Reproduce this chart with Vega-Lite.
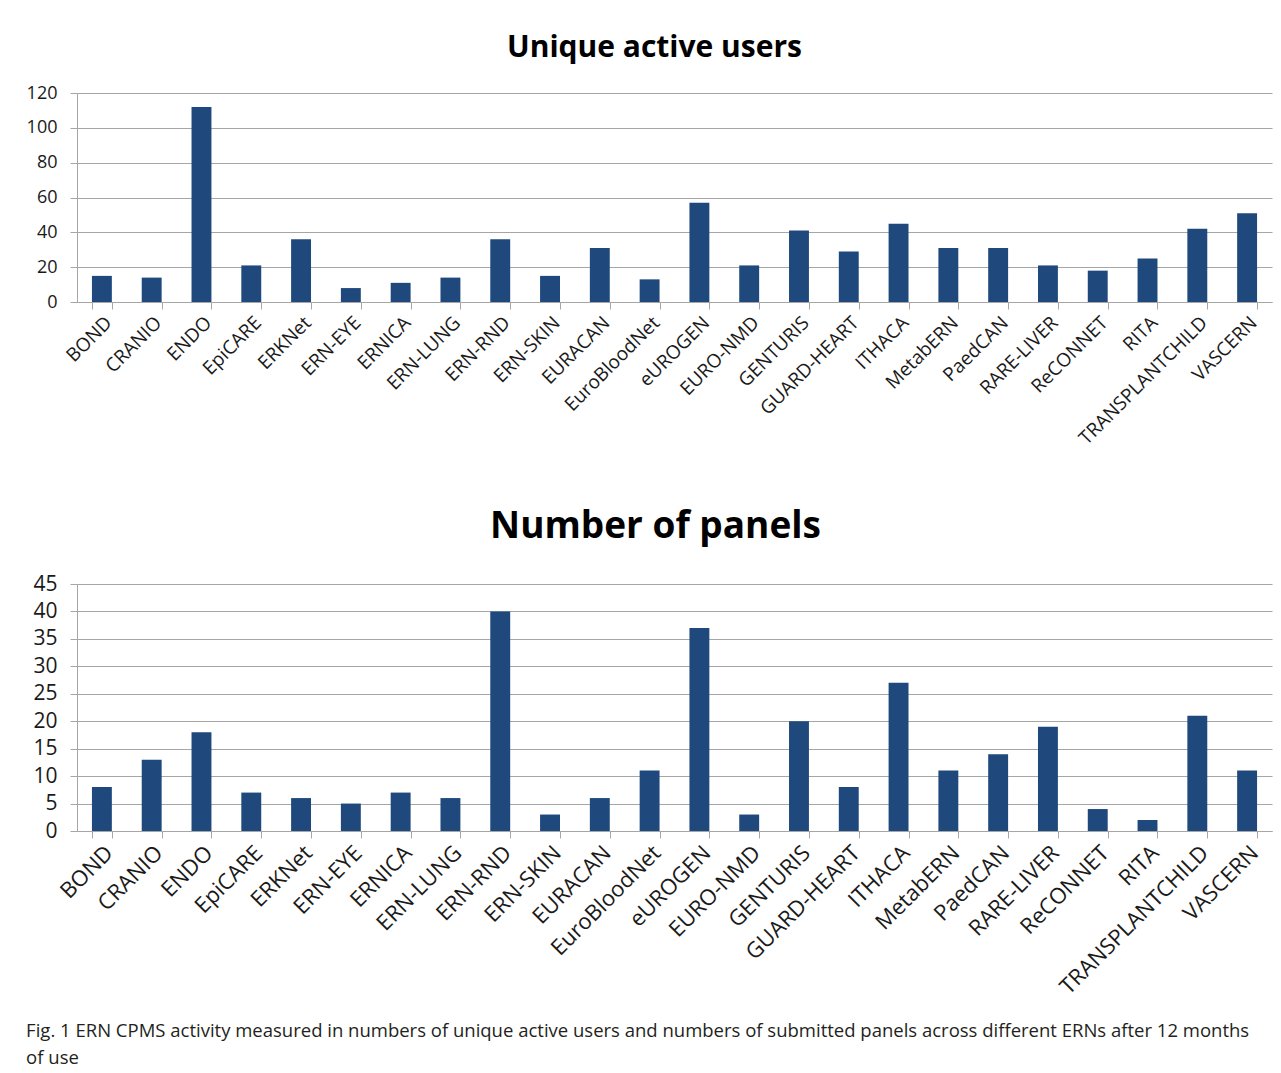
{
  "$schema": "https://vega.github.io/schema/vega-lite/v6.json",
  "background": "white",
  "padding": {"left": 26, "top": 33, "right": 6, "bottom": 4},
  "datasets": {
    "ern": [
      {"ern": "BOND", "users": 15, "panels": 8},
      {"ern": "CRANIO", "users": 14, "panels": 13},
      {"ern": "ENDO", "users": 112, "panels": 18},
      {"ern": "EpiCARE", "users": 21, "panels": 7},
      {"ern": "ERKNet", "users": 36, "panels": 6},
      {"ern": "ERN-EYE", "users": 8, "panels": 5},
      {"ern": "ERNICA", "users": 11, "panels": 7},
      {"ern": "ERN-LUNG", "users": 14, "panels": 6},
      {"ern": "ERN-RND", "users": 36, "panels": 40},
      {"ern": "ERN-SKIN", "users": 15, "panels": 3},
      {"ern": "EURACAN", "users": 31, "panels": 6},
      {"ern": "EuroBloodNet", "users": 13, "panels": 11},
      {"ern": "eUROGEN", "users": 57, "panels": 37},
      {"ern": "EURO-NMD", "users": 21, "panels": 3},
      {"ern": "GENTURIS", "users": 41, "panels": 20},
      {"ern": "GUARD-HEART", "users": 29, "panels": 8},
      {"ern": "ITHACA", "users": 45, "panels": 27},
      {"ern": "MetabERN", "users": 31, "panels": 11},
      {"ern": "PaedCAN", "users": 31, "panels": 14},
      {"ern": "RARE-LIVER", "users": 21, "panels": 19},
      {"ern": "ReCONNET", "users": 18, "panels": 4},
      {"ern": "RITA", "users": 25, "panels": 2},
      {"ern": "TRANSPLANTCHILD", "users": 42, "panels": 21},
      {"ern": "VASCERN", "users": 51, "panels": 11}
    ]
  },
  "title": {
    "text": ["Fig. 1 ERN CPMS activity measured in numbers of unique active users and numbers of submitted panels across different ERNs after 12 months", "of use"],
    "orient": "bottom",
    "anchor": "start",
    "fontSize": 18.5,
    "fontWeight": "normal",
    "font": "Open Sans",
    "color": "#231f20",
    "lineHeight": 27,
    "offset": 24
  },
  "spacing": 59,
  "vconcat": [
    {
      "width": 1195,
      "height": 209,
      "data": {"name": "ern"},
      "title": {"text": "Unique active users", "fontSize": 30, "fontWeight": "bold", "font": "Open Sans", "color": "#000000", "frame": "group", "baseline": "alphabetic", "offset": -3, "dx": -20},
      "mark": {"type": "bar", "color": "#1F497D"},
      "encoding": {
        "x": {
          "field": "ern", "type": "nominal", "sort": null,
          "scale": {"paddingInner": 0.6, "paddingOuter": 0.3},
          "axis": {"title": null, "labelAngle": -45, "labelFontSize": 19, "labelFont": "Open Sans", "labelColor": "#1a1a1a", "labelLimit": 0, "tickBand": "extent", "tickSize": 7, "tickColor": "#A6A6A6", "domainColor": "#A6A6A6", "labelPadding": 4}
        },
        "y": {
          "field": "users", "type": "quantitative",
          "scale": {"domain": [0, 120]},
          "axis": {"title": null, "values": [0, 20, 40, 60, 80, 100, 120], "labelFontSize": 18, "labelFont": "Open Sans", "labelColor": "#1a1a1a", "tickSize": 7, "tickColor": "#A6A6A6", "domainColor": "#A6A6A6", "gridColor": "#A6A6A6", "labelPadding": 13}
        }
      }
    },
    {
      "width": 1195,
      "height": 247,
      "data": {"name": "ern"},
      "title": {"text": "Number of panels", "fontSize": 37, "fontWeight": "bold", "font": "Open Sans", "color": "#000000", "frame": "group", "baseline": "alphabetic", "offset": -2, "dx": -19},
      "mark": {"type": "bar", "color": "#1F497D"},
      "encoding": {
        "x": {
          "field": "ern", "type": "nominal", "sort": null,
          "scale": {"paddingInner": 0.6, "paddingOuter": 0.3},
          "axis": {"title": null, "labelAngle": -45, "labelFontSize": 22, "labelFont": "Open Sans", "labelColor": "#1a1a1a", "labelLimit": 0, "tickBand": "extent", "tickSize": 7, "tickColor": "#A6A6A6", "domainColor": "#A6A6A6", "labelPadding": 4}
        },
        "y": {
          "field": "panels", "type": "quantitative",
          "scale": {"domain": [0, 45]},
          "axis": {"title": null, "values": [0, 5, 10, 15, 20, 25, 30, 35, 40, 45], "labelFontSize": 21, "labelFont": "Open Sans", "labelColor": "#1a1a1a", "tickSize": 7, "tickColor": "#A6A6A6", "domainColor": "#A6A6A6", "gridColor": "#A6A6A6", "labelPadding": 13}
        }
      }
    }
  ],
  "config": {
    "view": {"stroke": null},
    "axis": {"gridOpacity": 1, "gridWidth": 1}
  }
}
